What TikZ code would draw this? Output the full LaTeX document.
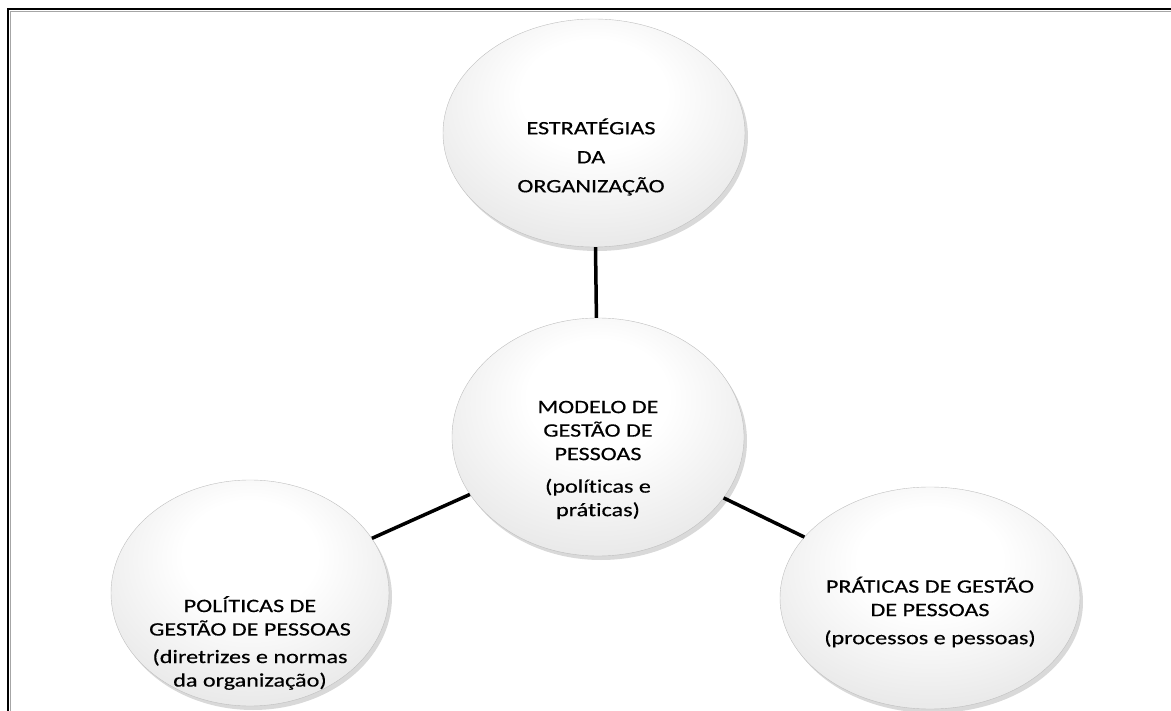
\documentclass[tikz,border=0pt]{standalone}
\usepackage{fontspec}
\setmainfont{Carlito}[FakeStretch=1.27, FakeBold=0.4, Ligatures=NoCommon]
\usetikzlibrary{shapes.geometric,shadows}

\pgfdeclareradialshading{bubbleshade}{\pgfpoint{0bp}{10bp}}{%
  color(0bp)=(white); color(12bp)=(white); color(34bp)=(black!10);
  color(48bp)=(black!24); color(56bp)=(black!38); color(75bp)=(black!38)}

\begin{document}
\begin{tikzpicture}[x=1pt,y=1pt,
	bubble/.style={ellipse, inner sep=0pt, shading=bubbleshade, draw=black!25, thin,
		drop shadow={shadow xshift=3pt, shadow yshift=-4pt, opacity=0.3}},
	txt/.style={align=center, inner sep=0pt, font=\fontsize{19}{23.5}\selectfont},
	link/.style={line width=3.5pt, black}]
	\useasboundingbox (0,0) rectangle (1171,-711);
	
	% frame
	\draw[gray!70, line width=1pt] (10.5,-711) -- (10.5,-11.5) -- (1171,-11.5);
	\draw[line width=2.5pt] (8,-711) -- (8,-9) -- (1171,-9);
	
	\node[bubble, minimum width=302pt, minimum height=228pt] (estr) at (594,-133) {};
	\node[bubble, minimum width=292pt, minimum height=238pt] (modelo) at (598,-437) {};
	\node[bubble, minimum width=278pt, minimum height=226pt] (polit) at (250,-593) {};
	\node[bubble, minimum width=300pt, minimum height=222pt] (prat) at (930,-598) {};
	
	\draw[link] (estr) -- (modelo);
	\draw[link] (polit) -- (modelo);
	\draw[link] (modelo) -- (prat);
	
	\node[txt] (estrtxt) at (591,-157) {ESTRATÉGIAS\\[5.5pt] DA\\[5.5pt] ORGANIZAÇÃO};
	\node[txt] (modelotxt) at (598,-460) {MODELO DE\\ GESTÃO DE\\ PESSOAS\\[9pt] (políticas e\\ práticas)};
	\node[txt] (polittxt) at (250,-643) {POLÍTICAS DE\\ GESTÃO DE PESSOAS\\[4pt] (diretrizes e normas\\ da organização)};
	\node[txt] (prattxt) at (930,-612) {PRÁTICAS DE GESTÃO\\ DE PESSOAS\\[4.5pt] (processos e pessoas)};
\end{tikzpicture}
\end{document}
